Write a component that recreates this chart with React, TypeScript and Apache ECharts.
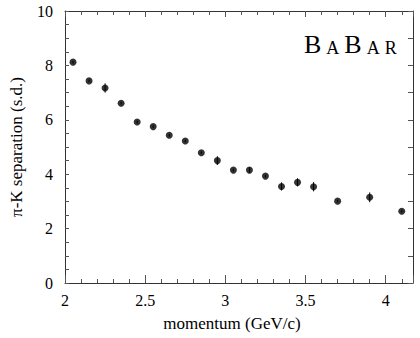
import React, { useEffect, useRef } from "react";
import * as echarts from "echarts";

const momentum = [2.05, 2.15, 2.25, 2.35, 2.45, 2.55, 2.65, 2.75, 2.85, 2.95, 3.05, 3.15, 3.25, 3.35, 3.45, 3.55, 3.7, 3.9, 4.1];
const separation = [8.12, 7.43, 7.17, 6.61, 5.92, 5.75, 5.43, 5.22, 4.79, 4.5, 4.15, 4.15, 3.93, 3.55, 3.7, 3.54, 3.01, 3.15, 2.64];
const errors = [0.05, 0.05, 0.17, 0.05, 0.05, 0.05, 0.05, 0.05, 0.05, 0.16, 0.05, 0.1, 0.05, 0.15, 0.15, 0.17, 0.05, 0.18, 0.05];

const FONT = "'Liberation Serif', 'Times New Roman', 'DejaVu Serif', serif";
const AXC = "#333";

export default function App() {
  const ref = useRef<HTMLDivElement>(null);
  useEffect(() => {
    const chart = echarts.init(ref.current!, null, { renderer: "svg" });
    const pts = momentum.map((m, i) => [m, separation[i]]);
    const errData = momentum.map((m, i) => [m, separation[i] - errors[i], separation[i] + errors[i]]);
    const xBase = {
      type: "value" as const,
      min: 2,
      max: 4.17,
      interval: 0.5,
      splitLine: { show: false },
      axisLine: { show: true, onZero: false, lineStyle: { color: AXC, width: 1 } },
    };
    const yBase = {
      type: "value" as const,
      min: 0,
      max: 10,
      splitLine: { show: false },
      axisLine: { show: true, onZero: false, lineStyle: { color: AXC, width: 1 } },
    };
    chart.setOption({
      animation: false,
      backgroundColor: "#fff",
      textStyle: { fontFamily: FONT },
      grid: { left: 60, right: 7, top: 11, bottom: 55 },
      xAxis: [
        {
          ...xBase,
          position: "bottom",
          name: "momentum (GeV/c)",
          nameLocation: "middle",
          nameGap: 32,
          nameTextStyle: { fontFamily: FONT, fontSize: 17, color: "#000", padding: [0, 14, 0, 0] },
          axisTick: { show: true, inside: true, length: 8, lineStyle: { color: "#555" } },
          minorTick: { show: true, splitNumber: 5, length: 4, lineStyle: { color: "#555" } },
          axisLabel: {
            fontFamily: FONT,
            fontSize: 16,
            color: "#000",
            margin: 9,
            formatter: (v: number) => (Math.abs(v - 4.17) < 1e-6 ? "" : String(v)),
          },
        },
        {
          ...xBase,
          position: "top",
          axisTick: { show: true, inside: true, length: 6, lineStyle: { color: "#555" } },
          minorTick: { show: true, splitNumber: 5, length: 4, lineStyle: { color: "#555" } },
          axisLabel: { show: false },
        },
      ],
      yAxis: [
        {
          ...yBase,
          position: "left",
          interval: 2,
          name: "π-K separation (s.d.)",
          nameLocation: "middle",
          nameGap: 40,
          nameTextStyle: { fontFamily: FONT, fontSize: 17, color: "#000" },
          axisTick: { show: true, inside: true, length: 4, lineStyle: { color: "#555" } },
          minorTick: { show: true, splitNumber: 4, length: 4, lineStyle: { color: "#555" } },
          axisLabel: { fontFamily: FONT, fontSize: 16, color: "#000", margin: 12 },
        },
        {
          ...yBase,
          position: "right",
          interval: 1,
          axisTick: { show: true, inside: true, length: 5, lineStyle: { color: "#555" } },
          axisLabel: { show: false },
        },
      ],
      graphic: [
        {
          type: "text",
          left: 304,
          top: 31,
          style: {
            text: "{b|B}{s|A}{b|B}{s|A}{r|R}",
            rich: {
              b: { fontFamily: FONT, fontSize: 26, fill: "#000", verticalAlign: "bottom", padding: [0, 5, 0, 0] },
              s: { fontFamily: FONT, fontSize: 18, fill: "#000", verticalAlign: "bottom", padding: [0, 5, 0, 0] },
              r: { fontFamily: FONT, fontSize: 18, fill: "#000", verticalAlign: "bottom" },
            },
          },
        },
      ],
      series: [
        {
          type: "custom",
          xAxisIndex: 0,
          yAxisIndex: 0,
          data: errData,
          renderItem: (params: any, api: any) => {
            const x = api.value(0);
            const lo = api.coord([x, api.value(1)]);
            const hi = api.coord([x, api.value(2)]);
            return {
              type: "line",
              shape: { x1: lo[0], y1: lo[1], x2: hi[0], y2: hi[1] },
              style: { stroke: "#000", lineWidth: 1 },
            };
          },
          z: 1,
        },
        {
          type: "scatter",
          xAxisIndex: 0,
          yAxisIndex: 0,
          data: pts,
          symbol: "circle",
          symbolSize: 7,
          itemStyle: { color: "#000" },
          z: 2,
        },
      ],
    });
    return () => chart.dispose();
  }, []);
  return <div ref={ref} style={{ width: 420, height: 338, position: "absolute", left: 0, top: 0 }} />;
}
